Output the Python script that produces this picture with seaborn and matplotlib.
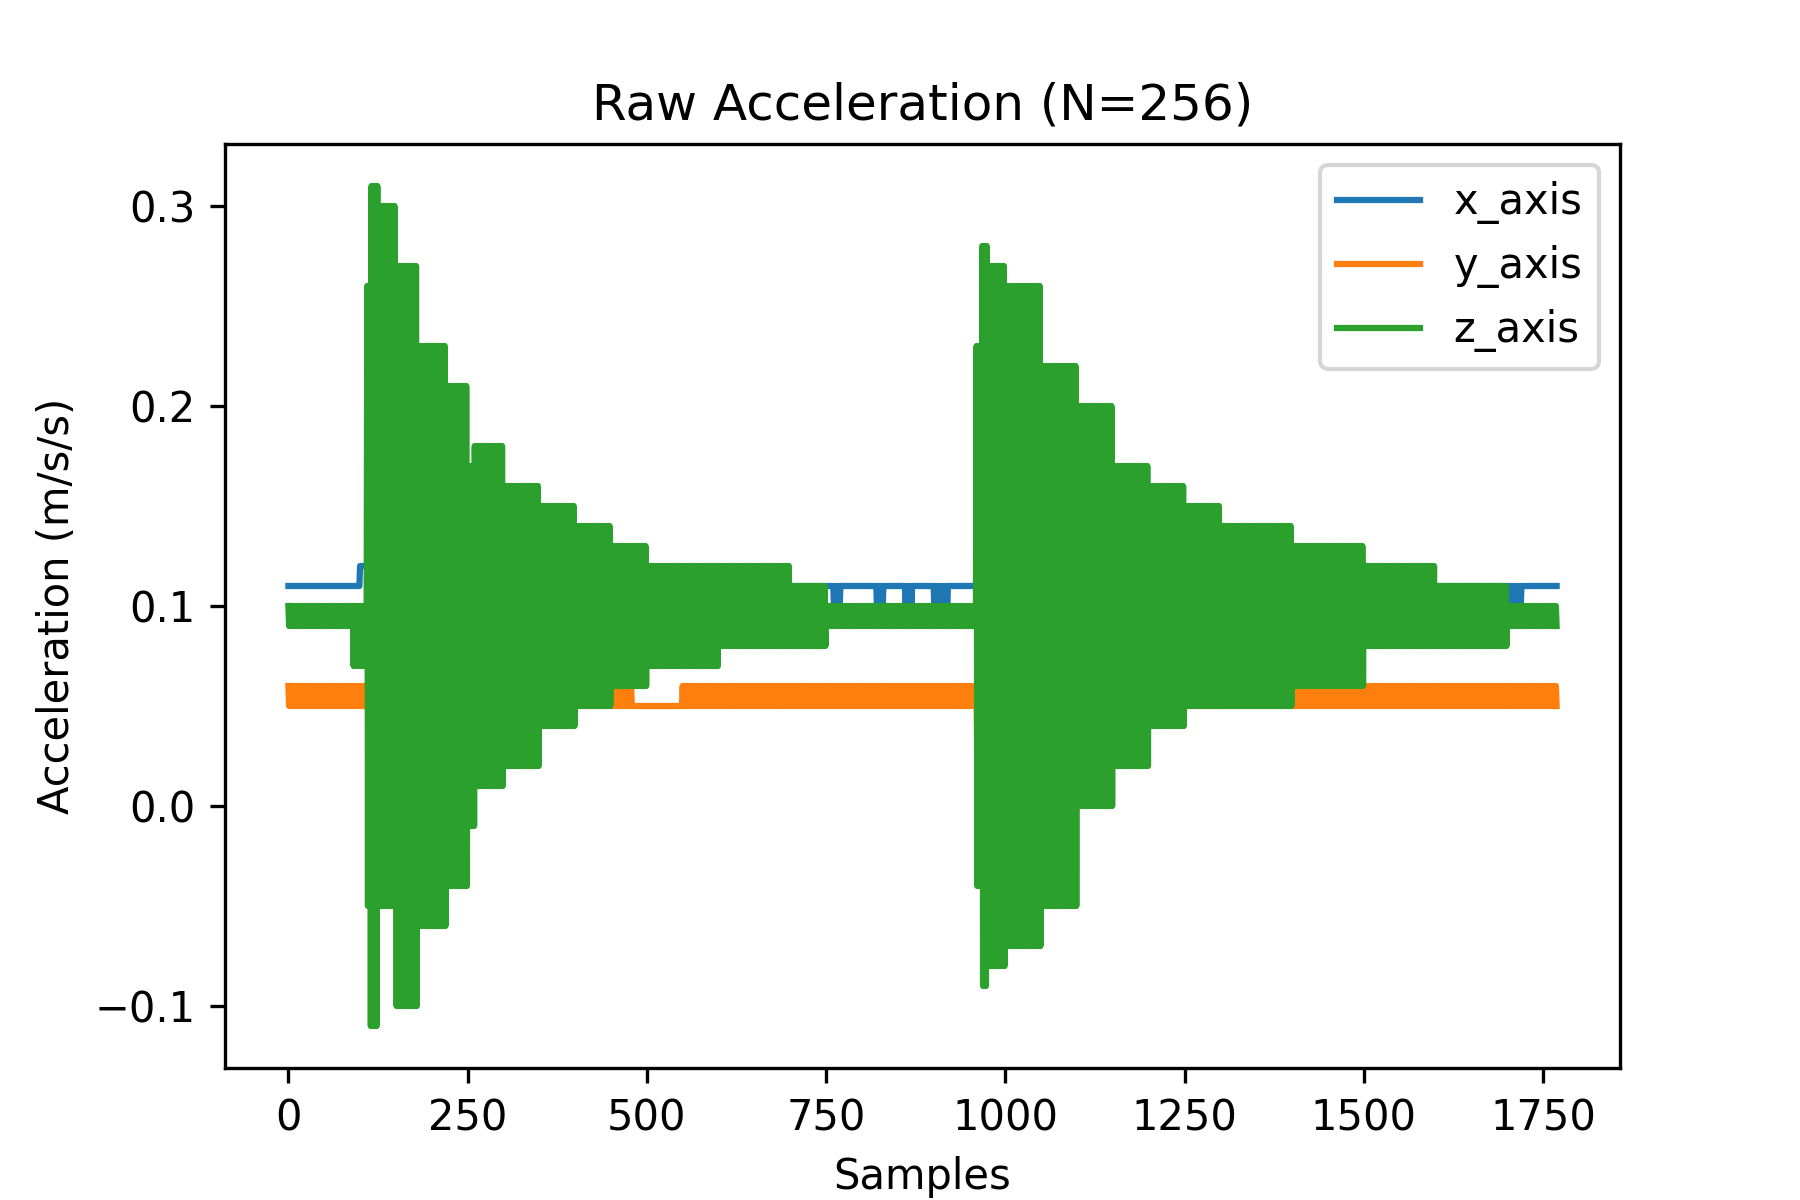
import matplotlib
matplotlib.use("Agg")
import matplotlib.pyplot as plt
import seaborn as sns
import pandas as pd
import numpy as np

n_samples = 1770

# piecewise segments: start sample, high value, low value
# each sample alternates between high and low inside a segment
x_starts = [0, 100, 112, 760, 770, 820, 830, 860, 870, 900, 920, 960, 978, 1700, 1720]
x_highs = [0.11, 0.12, 0.11, 0.11, 0.11, 0.11, 0.11, 0.11, 0.11, 0.11, 0.11, 0.12, 0.11, 0.11, 0.11]
x_lows = [0.11, 0.12, 0.11, 0.10, 0.11, 0.10, 0.11, 0.10, 0.11, 0.10, 0.11, 0.12, 0.11, 0.10, 0.11]

y_starts = [0, 480, 550, 960, 968, 980, 1300]
y_highs = [0.06, 0.05, 0.06, 0.05, 0.05, 0.05, 0.06]
y_lows = [0.05, 0.05, 0.05, 0.02, 0.05, 0.05, 0.05]

z_starts = [0, 90, 110, 115, 125, 150, 180, 220, 250, 260, 300, 350, 400, 450, 500,
            600, 700, 750, 960, 968, 975, 1000, 1050, 1100, 1150, 1200, 1250, 1300,
            1400, 1500, 1600, 1700]
z_highs = [0.10, 0.10, 0.26, 0.31, 0.30, 0.27, 0.23, 0.21, 0.17, 0.18, 0.16, 0.15, 0.14, 0.13, 0.12,
           0.12, 0.11, 0.10, 0.23, 0.28, 0.27, 0.26, 0.22, 0.20, 0.17, 0.16, 0.15, 0.14,
           0.13, 0.12, 0.11, 0.10]
z_lows = [0.09, 0.07, -0.05, -0.11, -0.05, -0.10, -0.06, -0.04, -0.01, 0.01, 0.02, 0.04, 0.05, 0.06, 0.07,
          0.08, 0.08, 0.09, -0.04, -0.09, -0.08, -0.07, -0.05, 0.00, 0.02, 0.04, 0.05, 0.05,
          0.06, 0.08, 0.08, 0.09]


def build(starts, highs, lows):
    vals = np.empty(n_samples)
    bounds = starts[1:] + [n_samples]
    for s, e, h, l in zip(starts, bounds, highs, lows):
        idx = np.arange(s, e)
        vals[s:e] = np.where(idx % 2 == 0, h, l)
    return vals


df = pd.DataFrame({
    "x_axis": build(x_starts, x_highs, x_lows),
    "y_axis": build(y_starts, y_highs, y_lows),
    "z_axis": build(z_starts, z_highs, z_lows),
})

fig, ax = plt.subplots(figsize=(6, 4), dpi=300)
sns.lineplot(data=df, dashes=False, palette=["#1f77b4", "#ff7f0e", "#2ca02c"], ax=ax)
ax.set_title("Raw Acceleration (N=256)")
ax.set_xlabel("Samples")
ax.set_ylabel("Acceleration (m/s/s)")
ax.legend(loc="upper right")
fig.savefig("out.png")
